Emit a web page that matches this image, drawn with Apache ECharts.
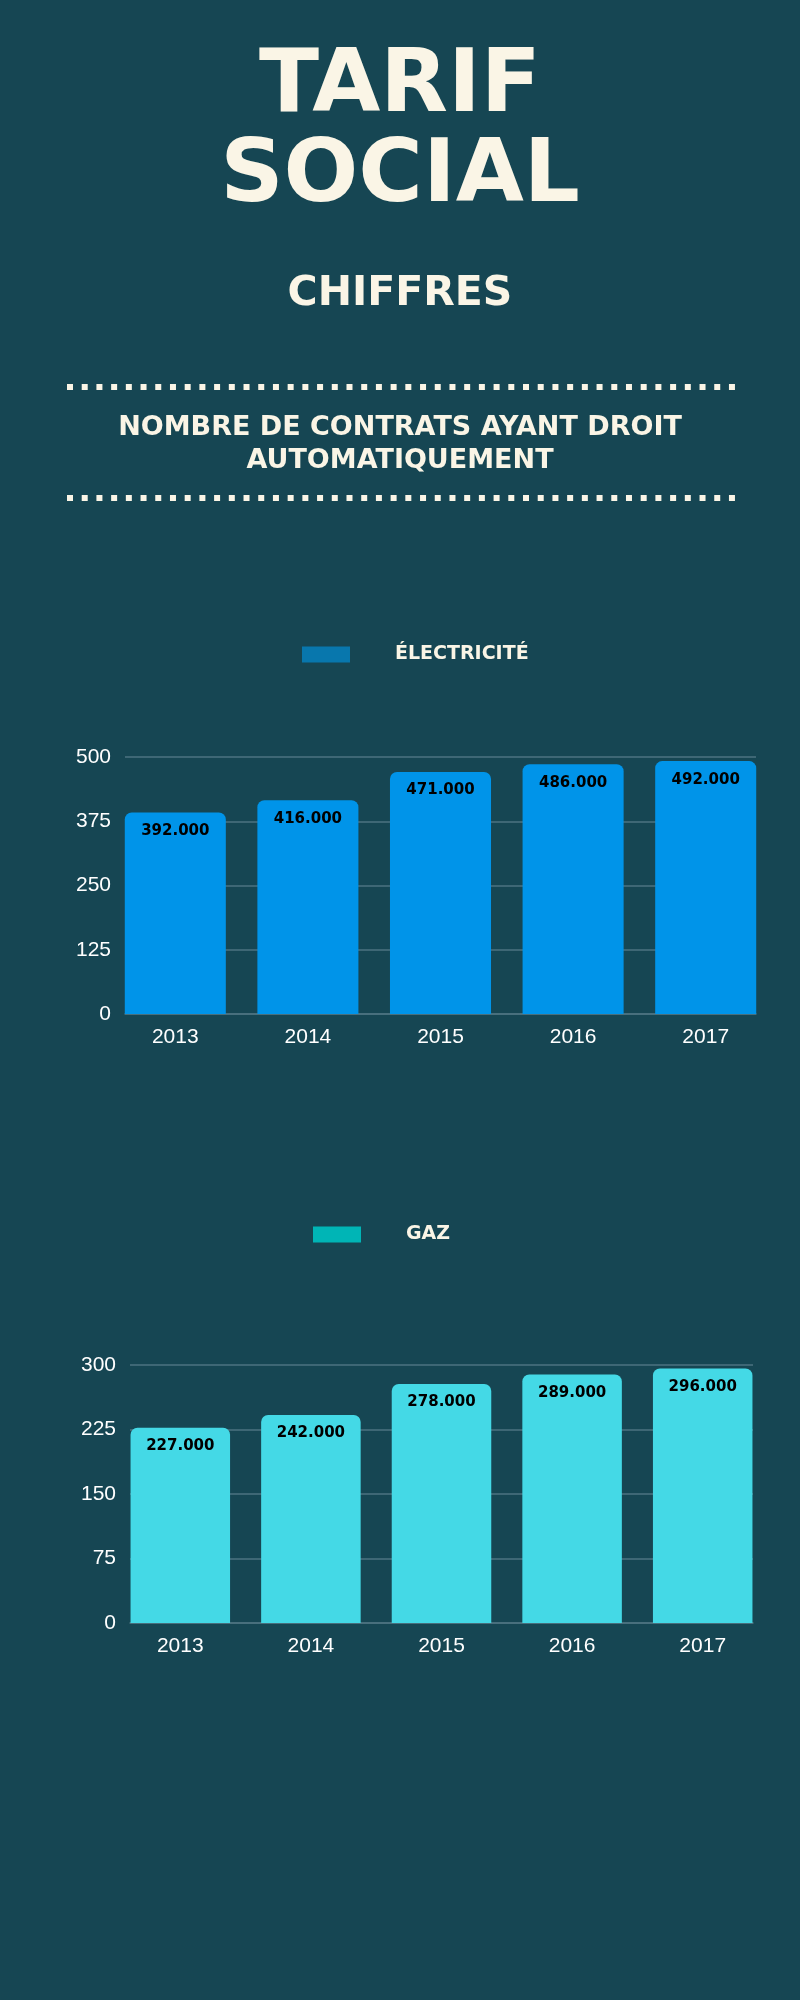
<!DOCTYPE html>
<html>
<head>
<meta charset="utf-8">
<script src="https://cdn.jsdelivr.net/npm/echarts@6/dist/echarts.min.js"></script>
<style>
html,body{margin:0;padding:0;background:#164653;}
#chart{width:800px;height:2000px;}
</style>
</head>
<body>
<div id="chart"></div>
<script>
// ---- data ----
const years = ['2013', '2014', '2015', '2016', '2017'];
const elecValues = [392, 416, 471, 486, 492];
const gazValues = [227, 242, 278, 289, 296];
const elecTicks = [0, 125, 250, 375, 500];
const gazTicks = [0, 75, 150, 225, 300];
const titleLine1 = 'TARIF';
const titleLine2 = 'SOCIAL';
const subTitle = 'CHIFFRES';
const sectionLine1 = 'NOMBRE DE CONTRATS AYANT DROIT';
const sectionLine2 = 'AUTOMATIQUEMENT';
const elecName = 'ÉLECTRICITÉ';
const gazName = 'GAZ';

// ---- styles ----
const BG = '#164653';
const CREAM = '#faf5e6';
const GRID = '#4c7380';
const headFont = '"DejaVu Sans", sans-serif';
const axisFont = '"Liberation Sans", Arial, sans-serif';

const chart = echarts.init(document.getElementById('chart'), null, {renderer: 'canvas'});

// axis carrying grid lines and tick labels
function valueAxisLines(ticks, gi) {
  return {
    type: 'value', gridIndex: gi, min: ticks[0], max: ticks[ticks.length - 1],
    interval: ticks[1] - ticks[0],
    axisLine: {show: false}, axisTick: {show: false},
    axisLabel: {color: '#ffffff', fontSize: 21, fontFamily: axisFont, margin: 14},
    splitLine: {lineStyle: {color: GRID, width: 1.5}}
  };
}
// hidden value axis for the bars
function valueAxisBars(ticks, gi) {
  return {
    type: 'value', gridIndex: gi, min: ticks[0], max: ticks[ticks.length - 1],
    interval: ticks[1] - ticks[0], show: false, splitLine: {show: false}
  };
}
function catAxisLine(gi) {
  return {
    type: 'category', data: years, gridIndex: gi,
    axisLine: {lineStyle: {color: GRID, width: 1.5}}, axisTick: {show: false},
    axisLabel: {show: false}
  };
}
function catAxisBars(gi) {
  return {
    type: 'category', data: years, gridIndex: gi,
    axisLine: {show: false}, axisTick: {show: false},
    axisLabel: {color: '#ffffff', fontSize: 21, fontFamily: axisFont, margin: 13}
  };
}
function barSeries(name, data, gi, color) {
  return {
    name: name, type: 'bar', data: data, xAxisIndex: gi, yAxisIndex: gi, z: 3,
    barCategoryGap: '23.8%',
    itemStyle: {color: color, borderRadius: [7, 7, 0, 0]},
    label: {
      show: true, position: 'insideTop', distance: 11, color: '#000000',
      fontSize: 15, fontWeight: 'bold', fontFamily: headFont,
      formatter: p => p.value + '.000'
    }
  };
}

const option = {
  backgroundColor: BG,
  animation: false,
  title: [
    {text: titleLine1, left: 'center', top: 39, textStyle: {color: CREAM, fontSize: 88, fontWeight: 'bold', fontFamily: headFont, lineHeight: 88}},
    {text: titleLine2, left: 'center', top: 129, textStyle: {color: CREAM, fontSize: 88, fontWeight: 'bold', fontFamily: headFont, lineHeight: 88}},
    {text: subTitle, left: 'center', top: 269, textStyle: {color: CREAM, fontSize: 41, fontWeight: 'bold', fontFamily: headFont, lineHeight: 41}},
    {text: sectionLine1, left: 'center', top: 408, textStyle: {color: CREAM, fontSize: 27, fontWeight: 'bold', fontFamily: headFont, lineHeight: 30}},
    {text: sectionLine2, left: 'center', top: 441, textStyle: {color: CREAM, fontSize: 27, fontWeight: 'bold', fontFamily: headFont, lineHeight: 30}}
  ],
  graphic: [
    {type: 'line', shape: {x1: 67, y1: 387, x2: 736, y2: 387}, style: {stroke: CREAM, lineWidth: 6, lineDash: [6, 8.71]}},
    {type: 'line', shape: {x1: 67, y1: 498, x2: 736, y2: 498}, style: {stroke: CREAM, lineWidth: 6, lineDash: [6, 8.71]}}
  ],
  legend: [
    {
      left: 302, top: 645, padding: 0, itemWidth: 48, itemHeight: 16, icon: 'rect',
      data: [{name: elecName, itemStyle: {color: '#0877ad'}}],
      textStyle: {color: CREAM, fontSize: 19, fontWeight: 'bold', fontFamily: headFont, padding: [0, 0, 0, 40]}
    },
    {
      left: 313, top: 1225, padding: 0, itemWidth: 48, itemHeight: 16, icon: 'rect',
      data: [{name: gazName, itemStyle: {color: '#00b5b6'}}],
      textStyle: {color: CREAM, fontSize: 19, fontWeight: 'bold', fontFamily: headFont, padding: [0, 0, 0, 40]}
    }
  ],
  grid: [
    {left: 125, right: 44, top: 757, bottom: 986},   // electricity: lines + y labels
    {left: 109, right: 28, top: 757, bottom: 986},   // electricity: bars
    {left: 130, right: 47, top: 1365, bottom: 377},  // gas: lines + y labels
    {left: 115, right: 32, top: 1365, bottom: 377}   // gas: bars
  ],
  xAxis: [catAxisLine(0), catAxisBars(1), catAxisLine(2), catAxisBars(3)],
  yAxis: [valueAxisLines(elecTicks, 0), valueAxisBars(elecTicks, 1), valueAxisLines(gazTicks, 2), valueAxisBars(gazTicks, 3)],
  series: [
    barSeries(elecName, elecValues, 1, '#0094e9'),
    barSeries(gazName, gazValues, 3, '#44d9e6')
  ]
};
chart.setOption(option);
</script>
</body>
</html>
